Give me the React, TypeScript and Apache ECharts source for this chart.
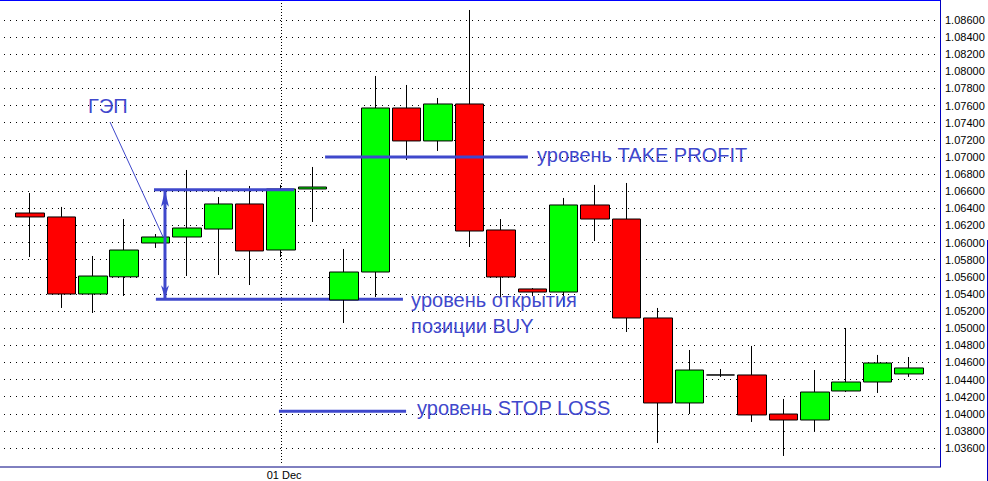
import React, { useEffect, useRef } from "react";
import * as echarts from "echarts";

// ---- data ----
const categories = [
  "", "", "", "", "", "", "", "", "01 Dec", "", "", "", "", "", "",
  "", "", "", "", "", "", "", "", "", "", "", "", "", "",
];
const opens = [
  1.06345, 1.06299, 1.05399, 1.056, 1.05995, 1.06065, 1.06158, 1.06451, 1.05913, 1.06626,
  1.05329, 1.05656, 1.07572, 1.07187, 1.07619, 1.06147, 1.05458, 1.05422, 1.06439, 1.06275,
  1.05119, 1.04126, 1.04453, 1.04453, 1.03997, 1.03927, 1.04266, 1.04371, 1.04465,
];
const closes = [
  1.06299, 1.05399, 1.05609, 1.05913, 1.06065, 1.0617, 1.06451, 1.05902, 1.06626, 1.06649,
  1.05656, 1.07572, 1.07187, 1.07619, 1.06135, 1.05598, 1.05422, 1.06439, 1.06275, 1.05119,
  1.04126, 1.04511, 1.04453, 1.03986, 1.03927, 1.04254, 1.04371, 1.04593, 1.04535,
];
const lows = [
  1.05831, 1.05236, 1.05177, 1.05376, 1.05937, 1.05609, 1.05621, 1.05504, 1.05831, 1.0624,
  1.0506, 1.05364, 1.06965, 1.0707, 1.05948, 1.05352, 1.05376, 1.05247, 1.06018, 1.04955,
  1.03658, 1.03997, 1.0443, 1.03904, 1.03507, 1.03787, 1.04254, 1.04243, 1.0443,
];
const highs = [
  1.06579, 1.06416, 1.05843, 1.06275, 1.061, 1.06848, 1.06532, 1.06661, 1.06673, 1.06883,
  1.05925, 1.07946, 1.07841, 1.07689, 1.08717, 1.06275, 1.05469, 1.06521, 1.06673, 1.06696,
  1.05236, 1.04745, 1.04523, 1.04792, 1.04173, 1.04511, 1.05002, 1.04687, 1.04663,
];
const priceMin = 1.036;
const priceMax = 1.086;
const priceStep = 0.002;

// annotation levels (price, from/to in candle-index units)
const levelPrices = { takeProfit: 1.07, gapTop: 1.06618, buyOpen: 1.05338, stopLoss: 1.04029 };
const levelLines = [
  { price: levelPrices.takeProfit, from: 9.4, to: 15.86, front: true },
  { price: levelPrices.gapTop, from: 3.95, to: 8.41, front: true },
  { price: levelPrices.buyOpen, from: 4.01, to: 11.88, front: false },
  { price: levelPrices.stopLoss, from: 7.93, to: 11.98, front: true },
];
const gapArrowIndex = 4.3;
const leaderLine = { from: [2.55, 1.07408], to: [4.24, 1.06065] };
const annotationTexts = [
  { text: "ГЭП", idx: 1.85, price: 1.07595 },
  { text: "уровень TAKE PROFIT", idx: 16.15, price: 1.07023 },
  { text: "уровень открытия\nпозиции BUY", idx: 12.14, price: 1.0518 },
  { text: "уровень STOP LOSS", idx: 12.33, price: 1.04067 },
];

const BLUE = "#3f48cc";
const FONT = "'Liberation Sans', Arial, sans-serif";

export default function App() {
  const ref = useRef<HTMLDivElement>(null);
  useEffect(() => {
    if (!ref.current) return;
    const chart = echarts.init(ref.current, undefined, { renderer: "svg" });
    const candles = opens.map((o, i) => [o, closes[i], lows[i], highs[i]]);
    chart.setOption({
      animation: false,
      backgroundColor: "#ffffff",
      grid: [
        { left: 4, right: 51, top: 20, bottom: 33 },
        { left: 14.3, right: 63.3, top: 20, bottom: 33 },
      ],
      xAxis: [
        { type: "value", gridIndex: 0, show: false, min: 0, max: 1 },
        {
          type: "category",
          gridIndex: 1,
          data: categories,
          boundaryGap: true,
          axisLine: { show: false },
          axisTick: { show: false },
          splitLine: { show: false },
          axisLabel: {
            interval: 0,
            margin: 21,
            color: "#000",
            fontSize: 11,
            fontFamily: FONT,
            padding: [0, 0, 0, 6],
          },
        },
      ],
      yAxis: [
        {
          type: "value",
          gridIndex: 0,
          position: "right",
          min: priceMin,
          max: priceMax,
          interval: priceStep,
          axisLine: { show: false },
          axisTick: { show: false },
          splitLine: { show: true, lineStyle: { color: "#000", width: 1, type: [1, 5] } },
          axisLabel: {
            margin: 8,
            color: "#000",
            fontSize: 11,
            fontFamily: FONT,
            formatter: (v: number) => v.toFixed(5),
          },
        },
        {
          type: "value",
          gridIndex: 1,
          min: priceMin,
          max: priceMax,
          show: false,
          splitLine: { show: false },
        },
      ],
      series: [
        {
          type: "candlestick",
          xAxisIndex: 1,
          yAxisIndex: 1,
          data: candles,
          barWidth: 29,
          clip: false,
          z: 5,
          itemStyle: {
            color: "#00ff00",
            color0: "#ff0000",
            borderColor: "#000000",
            borderColor0: "#000000",
            borderColorDoji: "#000000",
            borderWidth: 1,
          },
          emphasis: { disabled: true },
        },
      ],
    });

    const x0 = chart.convertToPixel({ xAxisIndex: 1 }, 0) as number;
    const x1 = chart.convertToPixel({ xAxisIndex: 1 }, 1) as number;
    const xAt = (idx: number) => x0 + (x1 - x0) * idx;
    const yAt = (p: number) => chart.convertToPixel({ yAxisIndex: 1 }, p) as number;

    const elements: any[] = [];
    // frame
    elements.push(
      { type: "line", z: 20, shape: { x1: 0, y1: 0.5, x2: 941, y2: 0.5 }, style: { stroke: "#0000ff", lineWidth: 1 } },
      { type: "line", z: 20, shape: { x1: 940.5, y1: 0, x2: 940.5, y2: 467 }, style: { stroke: "#0000c0", lineWidth: 1 } },
      { type: "line", z: 20, shape: { x1: 0, y1: 467, x2: 941, y2: 467 }, style: { stroke: "#000080", lineWidth: 1 } },
      { type: "line", z: 20, shape: { x1: 987.5, y1: 240, x2: 987.5, y2: 481 }, style: { stroke: "#0000c0", lineWidth: 1 } }
    );
    // period separator at "01 Dec"
    const sepX = Math.round(xAt(categories.indexOf("01 Dec"))) + 0.5;
    elements.push({
      type: "line",
      z: 1,
      shape: { x1: sepX, y1: 0, x2: sepX, y2: 463 },
      style: { stroke: "#000", lineWidth: 1, lineDash: [1, 2] },
    });
    // level lines
    levelLines.forEach((l) => {
      const y = yAt(l.price);
      elements.push({
        type: "line",
        z: l.front ? 8 : 1,
        shape: { x1: xAt(l.from), y1: y, x2: xAt(l.to), y2: y },
        style: { stroke: BLUE, lineWidth: 3 },
      });
    });
    // gap arrow
    const ax = xAt(gapArrowIndex);
    const ay1 = yAt(levelPrices.gapTop);
    const ay2 = yAt(levelPrices.buyOpen);
    elements.push({
      type: "line",
      z: 8,
      shape: { x1: ax, y1: ay1, x2: ax, y2: ay2 },
      style: { stroke: BLUE, lineWidth: 3 },
    });
    elements.push({
      type: "polygon",
      z: 8,
      shape: { points: [[ax, ay1 + 1], [ax - 4, ay1 + 17], [ax, ay1 + 13], [ax + 4, ay1 + 17]] },
      style: { fill: BLUE },
    });
    elements.push({
      type: "polygon",
      z: 8,
      shape: { points: [[ax, ay2 - 1], [ax - 4, ay2 - 14], [ax, ay2 - 10], [ax + 4, ay2 - 14]] },
      style: { fill: BLUE },
    });
    // leader line from label to arrow
    elements.push({
      type: "line",
      z: 8,
      shape: {
        x1: xAt(leaderLine.from[0]),
        y1: yAt(leaderLine.from[1]),
        x2: xAt(leaderLine.to[0]),
        y2: yAt(leaderLine.to[1]),
      },
      style: { stroke: BLUE, lineWidth: 1 },
    });
    // texts
    annotationTexts.forEach((t) => {
      elements.push({
        type: "text",
        z: 9,
        x: xAt(t.idx),
        y: yAt(t.price),
        style: {
          text: t.text,
          fill: BLUE,
          font: `20px ${FONT}`,
          lineHeight: 26,
          align: "left",
          verticalAlign: "middle",
        },
      });
    });
    chart.setOption({ graphic: { elements } });

    return () => chart.dispose();
  }, []);
  return (
    <div
      ref={ref}
      style={{ position: "fixed", left: 0, top: 0, width: 988, height: 481, background: "#fff" }}
    />
  );
}
